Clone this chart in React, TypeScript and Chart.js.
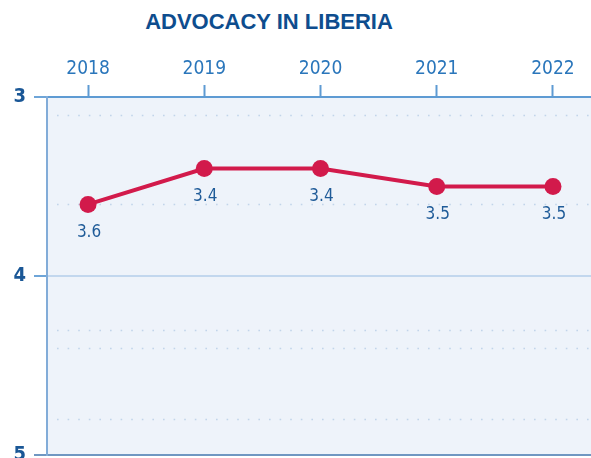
import React, { useEffect, useRef } from "react";
import { Chart, registerables } from "chart.js";

Chart.register(...registerables);

const title = "ADVOCACY IN LIBERIA";
const years = [2018, 2019, 2020, 2021, 2022];
const scores = [3.6, 3.4, 3.4, 3.5, 3.5];
const yTicks = [3, 4, 5];
const referenceLevels = [3.1, 3.6, 4.3, 4.4, 4.8];

const NARROW = "'Liberation Sans Narrow', 'DejaVu Sans Condensed', 'Arial Narrow', sans-serif";

const bgPlugin = {
  id: "plotBg",
  beforeDraw(chart: any) {
    const { ctx, chartArea: a } = chart;
    ctx.save();
    ctx.fillStyle = "#eef3fa";
    ctx.fillRect(a.left, a.top, a.right - a.left, a.bottom - a.top);
    ctx.restore();
  },
  beforeDatasetsDraw(chart: any) {
    const { ctx, chartArea: a, scales } = chart;
    ctx.save();
    ctx.strokeStyle = "rgba(140,175,215,0.45)";
    ctx.lineWidth = 1.6;
    ctx.setLineDash([1.6, 9]);
    referenceLevels.forEach((v) => {
      const y = Math.round(scales.y.getPixelForValue(v)) + 0.5;
      ctx.beginPath();
      ctx.moveTo(a.left + 10, y);
      ctx.lineTo(a.right, y);
      ctx.stroke();
    });
    ctx.restore();
  },
};

const labelPlugin = {
  id: "pointLabels",
  afterDatasetsDraw(chart: any) {
    const { ctx } = chart;
    const meta = chart.getDatasetMeta(0);
    ctx.save();
    ctx.fillStyle = "#1f5b98";
    ctx.font = `17px ${NARROW}`;
    ctx.textAlign = "center";
    ctx.textBaseline = "middle";
    meta.data.forEach((pt: any, i: number) => {
      ctx.fillText(scores[i].toFixed(1), pt.x + 1, pt.y + 28);
    });
    ctx.restore();
  },
};

export default function App() {
  const ref = useRef<HTMLCanvasElement | null>(null);

  useEffect(() => {
    document.body.style.margin = "0";
    const canvas = ref.current!;
    const chart = new Chart(canvas, {
      type: "line",
      data: {
        datasets: [
          {
            data: years.map((y, i) => ({ x: y, y: scores[i] })),
            borderColor: "#d21a4b",
            backgroundColor: "#d21a4b",
            borderWidth: 4,
            pointRadius: 8.5,
            pointHoverRadius: 8.5,
            pointBorderWidth: 0,
            tension: 0,
            clip: false as any,
          },
        ],
      },
      options: {
        animation: false,
        responsive: false,
        maintainAspectRatio: false,
        layout: { autoPadding: false, padding: { top: 40, left: 0, right: 0, bottom: 3 } },
        plugins: {
          legend: { display: false },
          title: { display: false },
          tooltip: { enabled: false },
        },
        scales: {
          x: {
            type: "linear",
            position: "top",
            min: 2017.647,
            max: 2022.327,
            afterBuildTicks: (s: any) => {
              s.ticks = years.map((v) => ({ value: v }));
            },
            afterFit: (s: any) => {
              s.height = 57;
              s.paddingLeft = 0;
              s.paddingRight = 0;
            },
            ticks: {
              callback: (v: any) => String(v),
              color: "#2a76bb",
              font: { family: NARROW, size: 19 },
              padding: 5,
              maxRotation: 0,
              autoSkip: false,
            },
            grid: {
              drawOnChartArea: false,
              drawTicks: true,
              tickLength: 12,
              tickColor: "#5e9bd3",
              tickWidth: 2,
              color: "#5e9bd3",
            },
            border: { display: true, color: "#5e9bd3", width: 2 },
          },
          y: {
            type: "linear",
            reverse: true,
            min: 3,
            max: 5,
            afterBuildTicks: (s: any) => {
              s.ticks = yTicks.map((v) => ({ value: v }));
            },
            afterFit: (s: any) => {
              s.width = 47;
              s.paddingTop = 0;
              s.paddingBottom = 0;
            },
            ticks: {
              color: "#1a5796",
              font: { family: NARROW, size: 20, weight: "bold" },
              padding: 8,
            },
            grid: {
              drawTicks: true,
              tickLength: 13,
              lineWidth: 2,
              tickWidth: 2,
              color: (c: any) =>
                c.tick && c.tick.value === 4
                  ? "#c2d7ee"
                  : c.tick && c.tick.value === 5
                  ? "#7097c2"
                  : "rgba(0,0,0,0)",
              tickColor: (c: any) =>
                c.tick && c.tick.value === 5 ? "#7097c2" : "#6ea5d8",
            },
            border: { display: true, color: "#82acd8", width: 2 },
          },
        },
      },
      plugins: [bgPlugin, labelPlugin],
    } as any);
    return () => chart.destroy();
  }, []);

  return (
    <div style={{ position: "absolute", left: 0, top: 0, width: 591, height: 458, overflow: "hidden", background: "#fff" }}>
      <div
        style={{
          position: "absolute",
          left: 0,
          top: 8,
          width: 538,
          textAlign: "center",
          fontFamily: "'Liberation Sans', Arial, sans-serif",
          fontWeight: "bold",
          fontSize: 22,
          lineHeight: "28px",
          color: "#0e4d8e",
          letterSpacing: 0,
        }}
      >
        {title}
      </div>
      <canvas ref={ref} width={591} height={458} style={{ position: "absolute", left: 0, top: 0, width: 591, height: 458 }} />
    </div>
  );
}
